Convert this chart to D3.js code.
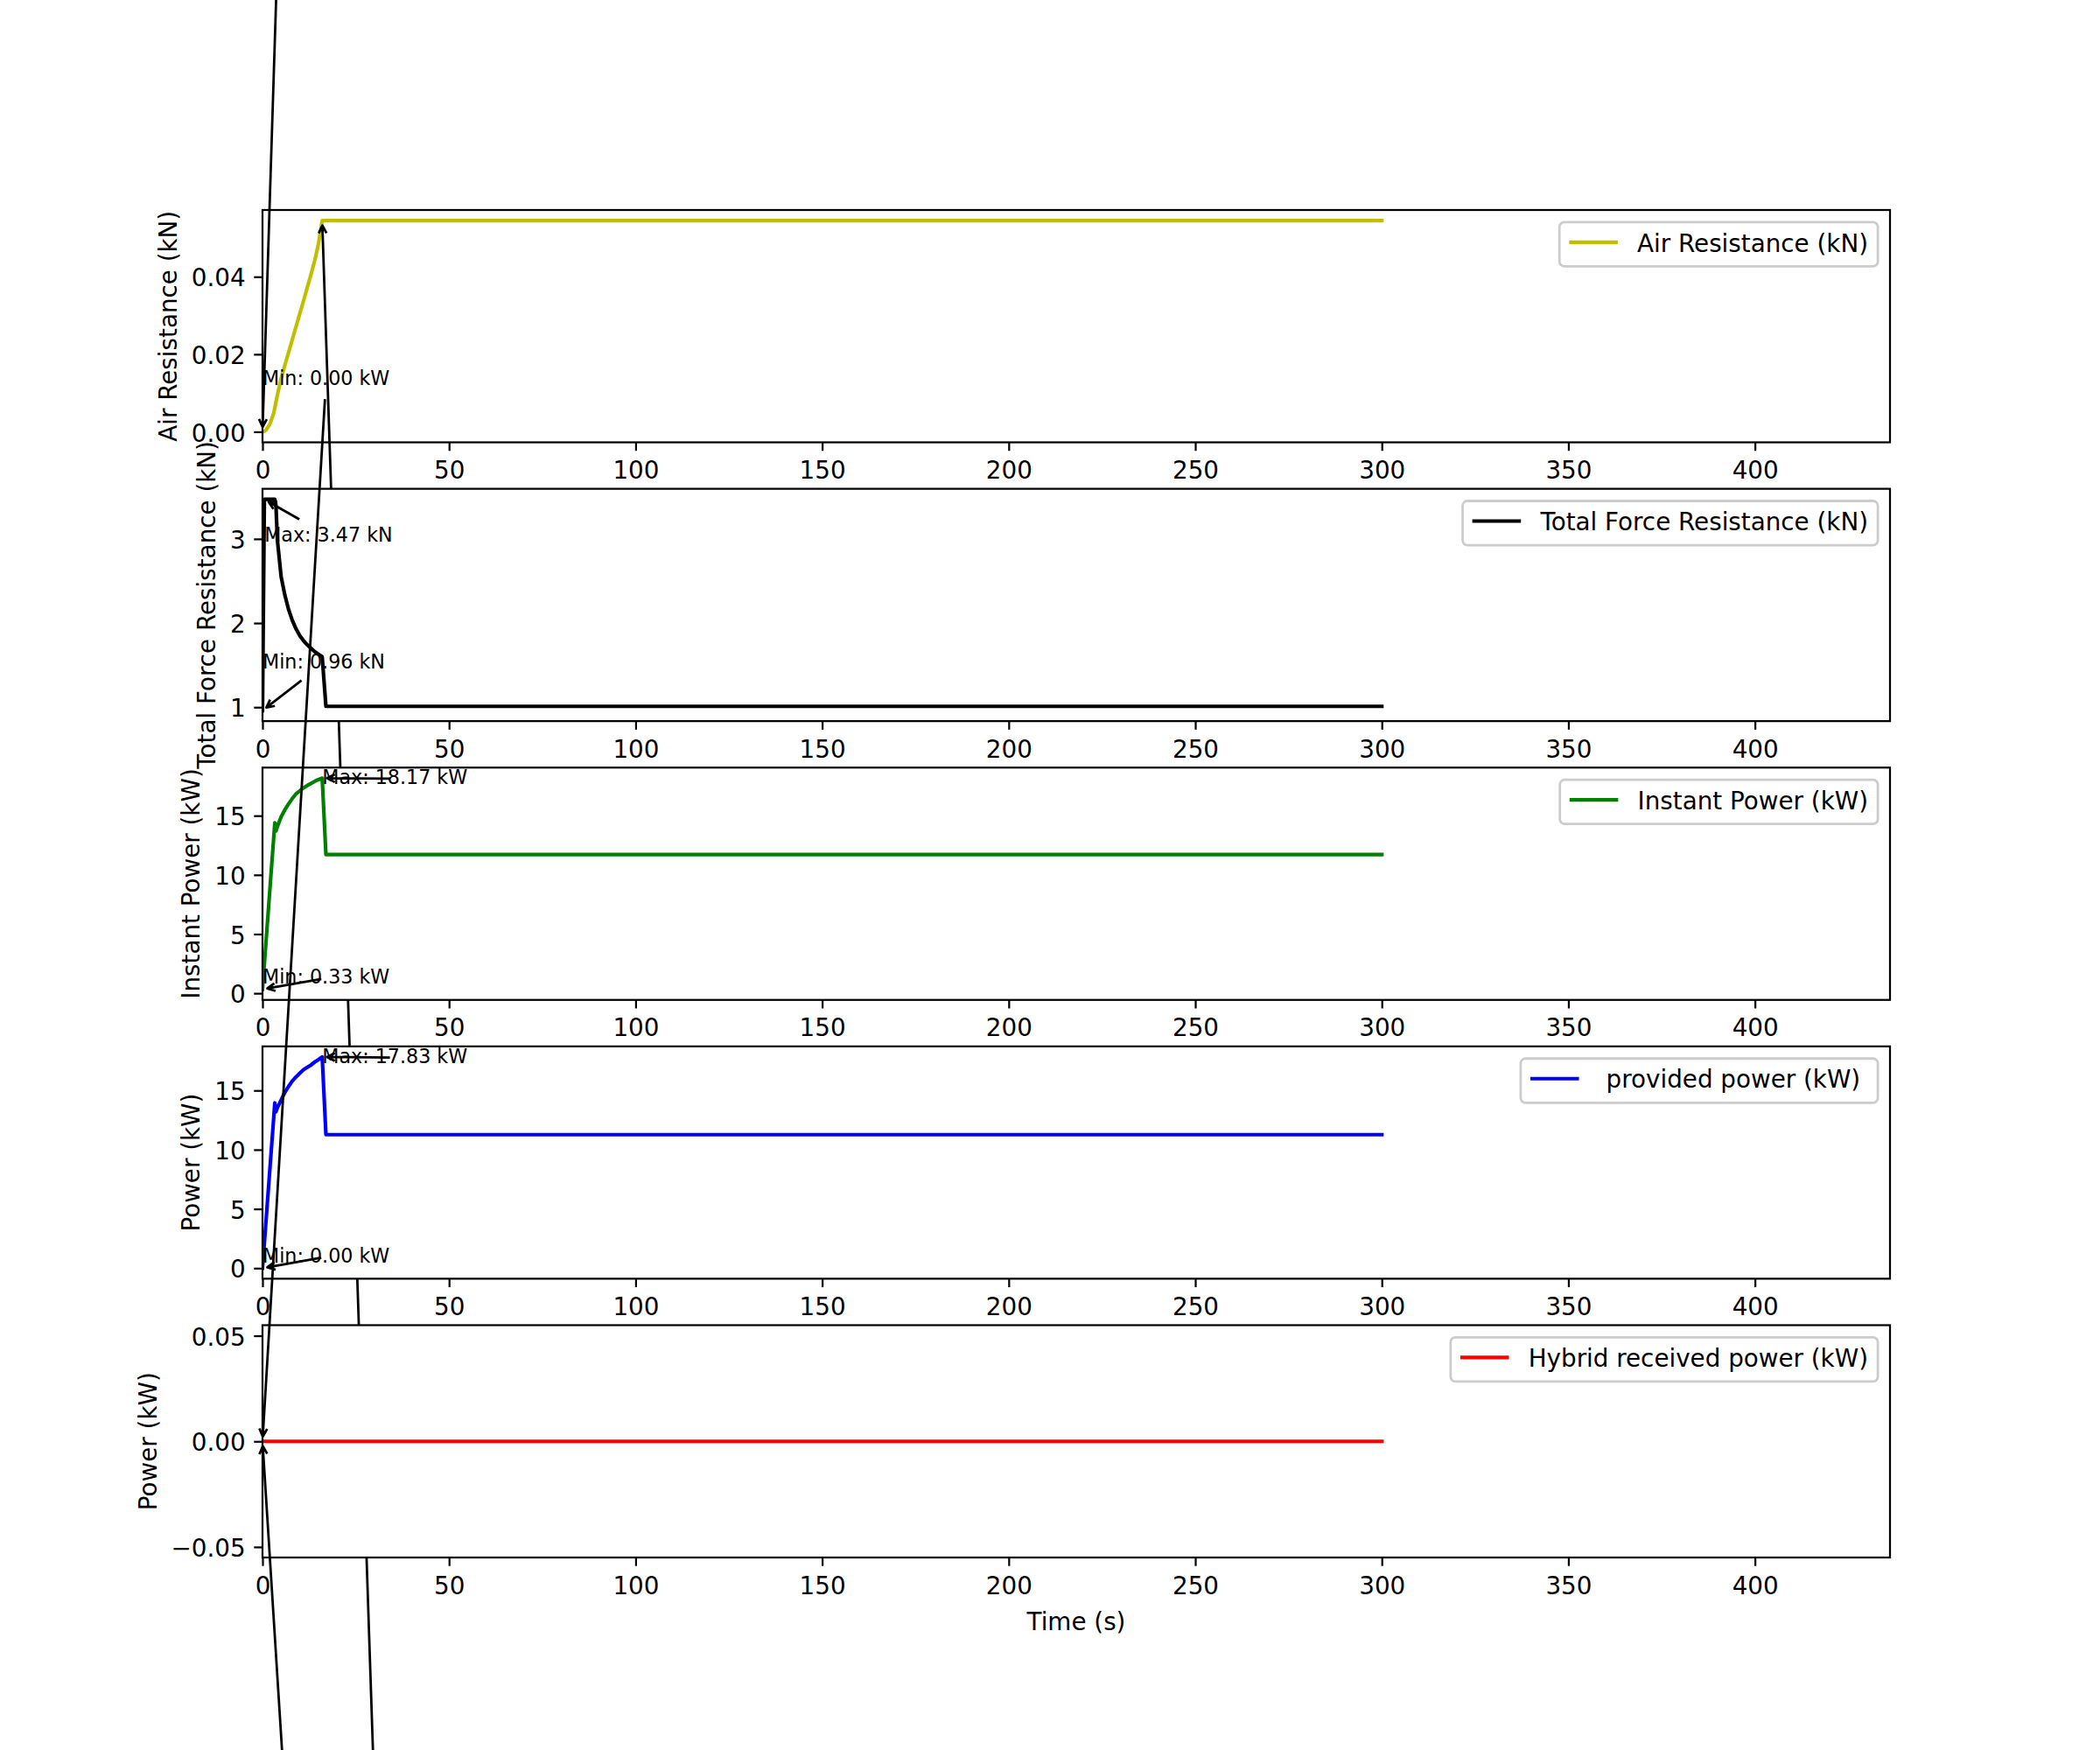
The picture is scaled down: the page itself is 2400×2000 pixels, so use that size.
<!DOCTYPE html>
<html><head><meta charset="utf-8">
<script src="https://cdn.jsdelivr.net/npm/d3@7"></script>
<style>body{margin:0;background:#fff} svg text{font-family:"DejaVu Sans"}</style>
</head><body><svg id="c" width="2400" height="2000"></svg>
<script>
// ---------------- data ----------------
const time = [0,0.5,1,2,3,3.3,3.6,4,5,6,7,8,9,10,11,12,13,14,15,16,17,300];
const airResistance = [0,0.0001,0.0005,0.002,0.0048,0.0062,0.0076,0.0095,0.0138,0.0172,0.0205,0.0238,0.0272,0.0305,0.0338,0.0372,0.0406,0.0442,0.0485,0.0545,0.0545,0.0545];
const totalForce = [0.96,3.47,3.47,3.47,3.47,3.47,3.40,2.98,2.55,2.33,2.16,2.03,1.93,1.85,1.79,1.74,1.70,1.66,1.63,1.60,1.01,1.01];
const instantPower = [0.33,2.46,4.59,8.86,13.12,14.4,13.7,14.1,14.9,15.5,16.0,16.45,16.85,17.1,17.35,17.55,17.72,17.9,18.05,18.17,11.72,11.72];
const providedPower = [0,2.11,4.23,8.45,12.68,13.95,13.2,13.55,14.2,14.85,15.35,15.8,16.15,16.45,16.75,16.95,17.15,17.4,17.6,17.83,11.27,11.27];
const hybridTime = [0,300];
const hybridPower = [0,0];

const xTicks = [0,50,100,150,200,250,300,350,400];
const xMax = 436.2;
const airTicks = [0,0.02,0.04];
const forceTicks = [1,2,3];
const powerTicks = [0,5,10,15];
const hybridTicks = [-0.05,0,0.05];

const legendLabels = ["Air Resistance (kN)","Total Force Resistance (kN)","Instant Power (kW)"," provided power (kW) ","Hybrid received power (kW)"];
const yLabels = ["Air Resistance (kN)","Total Force Resistance (kN)","Instant Power (kW)","Power (kW)","Power (kW)"];
const units = ["kN","kN","kW","kW","kW"];
const colors = ["#bfbf00","#000000","#008000","#0000ff","#ff0000"];
const annotOffset = 0.5;
const xLabel = "Time (s)";

// ---------------- layout ----------------
const PT = 200/72;
const FS = 10*PT, AFS = 8*PT;
const left = 300, right = 2160, top0 = 240;
const axH = 1540/5.8, gap = axH*0.2;
const svg = d3.select('#c');
svg.append('rect').attr('width',2400).attr('height',2000).attr('fill','#fff');
const x = d3.scaleLinear().domain([0,xMax]).range([left,right]);

const panels = [
  {t:time, v:airResistance, ticks:airTicks, fmt:d3.format('.2f')},
  {t:time, v:totalForce, ticks:forceTicks, fmt:d3.format('d')},
  {t:time, v:instantPower, ticks:powerTicks, fmt:d3.format('d')},
  {t:time, v:providedPower, ticks:powerTicks, fmt:d3.format('d')},
  {t:hybridTime, v:hybridPower, ticks:hybridTicks, fmt:d3.format('.2f')}
];

function yDomain(v){
  let lo=d3.min(v), hi=d3.max(v);
  if(lo===hi){ lo-=0.05; hi+=0.05; }
  const m=(hi-lo)*0.05; return [lo-m,hi+m];
}

function annotate(g, txt, tx, ty, px, py){
  const ann = g.append('g');
  const arrowG = ann.append('g');
  const tEl = ann.append('text').attr('x',tx).attr('y',ty).attr('font-size',AFS).attr('fill','#000').text(txt);
  const w = tEl.node().getComputedTextLength();
  const bx0=tx, bx1=tx+w, by0=ty-0.760*AFS, by1=ty+0.208*AFS;
  const cx=(bx0+bx1)/2, cy=(by0+by1)/2;
  const pad=2*PT;
  const rx0=bx0-pad, rx1=bx1+pad, ry0=by0-pad, ry1=by1+pad;
  let ax=cx, ay=cy;
  const inside = (px>=rx0&&px<=rx1&&py>=ry0&&py<=ry1);
  const dx=px-cx, dy=py-cy;
  if(!inside){
    let s=1;
    if(dx>0) s=Math.min(s,(rx1-cx)/dx); else if(dx<0) s=Math.min(s,(rx0-cx)/dx);
    if(dy>0) s=Math.min(s,(ry1-cy)/dy); else if(dy<0) s=Math.min(s,(ry0-cy)/dy);
    ax=cx+dx*s; ay=cy+dy*s;
  }
  const L=Math.hypot(px-ax,py-ay);
  const ux=(px-ax)/L, uy=(py-ay)/L;
  const sh=2*PT;
  const sx=ax+ux*sh, sy=ay+uy*sh, ex=px-ux*sh, ey=py-uy*sh;
  const hl=0.4*AFS, hw=0.2*AFS;
  const bxp=ex-ux*hl, byp=ey-uy*hl, nx=-uy, ny=ux;
  arrowG.append('path')
    .attr('d',`M${sx},${sy}L${ex},${ey}M${bxp+nx*hw},${byp+ny*hw}L${ex},${ey}L${bxp-nx*hw},${byp-ny*hw}`)
    .attr('fill','none').attr('stroke','#000').attr('stroke-width',1*PT)
    .attr('stroke-linejoin','round');
}

panels.forEach((p,i)=>{
  const top = top0 + i*(axH+gap), bottom = top+axH;
  const y = d3.scaleLinear().domain(yDomain(p.v)).range([bottom,top]);
  const g = svg.append('g');
  // axes background
  g.append('rect').attr('x',left).attr('y',top).attr('width',right-left).attr('height',axH).attr('fill','#fff');
  const cid='clip'+i;
  g.append('clipPath').attr('id',cid).append('rect').attr('x',left).attr('y',top).attr('width',right-left).attr('height',axH);
  const pts = p.t.map((t,k)=>[t,p.v[k]]);
  g.append('path').attr('clip-path',`url(#${cid})`)
    .attr('d', d3.line().x(d=>x(d[0])).y(d=>y(d[1]))(pts))
    .attr('fill','none').attr('stroke',colors[i]).attr('stroke-width',1.5*PT)
    .attr('stroke-linejoin','round').attr('stroke-linecap','square');
  // spines
  g.append('rect').attr('x',left).attr('y',top).attr('width',right-left).attr('height',axH)
    .attr('fill','none').attr('stroke','#000').attr('stroke-width',0.8*PT);
  // x axis
  const xa = g.append('g').attr('transform',`translate(0,${bottom})`)
    .call(d3.axisBottom(x).tickValues(xTicks).tickSize(3.5*PT).tickPadding(3.5*PT).tickFormat(d3.format('d')));
  xa.select('.domain').remove();
  xa.selectAll('line').attr('stroke','#000').attr('stroke-width',0.8*PT);
  xa.selectAll('text').attr('font-family','DejaVu Sans').attr('font-size',FS).attr('fill','#000').attr('dy','0.8em');
  // y axis
  const ya = g.append('g').attr('transform',`translate(${left},0)`)
    .call(d3.axisLeft(y).tickValues(p.ticks).tickSize(3.5*PT).tickPadding(3.5*PT).tickFormat(p.fmt));
  ya.select('.domain').remove();
  ya.selectAll('line').attr('stroke','#000').attr('stroke-width',0.8*PT);
  const yt = ya.selectAll('text').attr('font-family','DejaVu Sans').attr('font-size',FS).attr('fill','#000').attr('dy','0.38em');
  let maxW = 0; yt.each(function(){ maxW=Math.max(maxW,this.getComputedTextLength()); });
  const ylx = left - 7*PT - maxW - 4*PT - 0.208*FS;
  g.append('text').attr('transform',`translate(${ylx},${(top+bottom)/2}) rotate(-90)`)
    .attr('text-anchor','middle').attr('font-size',FS).attr('fill','#000').text(yLabels[i]);
  if(i===panels.length-1){
    const xlTop = bottom + 7*PT + 0.968*FS + 4*PT;
    g.append('text').attr('x',(left+right)/2).attr('y',xlTop+0.76*FS+4)
      .attr('text-anchor','middle').attr('font-size',FS).attr('fill','#000').text(xLabel);
  }
  // annotations
  const iMax = d3.maxIndex(p.v), iMin = d3.minIndex(p.v);
  const vMax = p.v[iMax], vMin = p.v[iMin];
  annotate(g, `Max: ${vMax.toFixed(2)} ${units[i]}`, x(p.t[iMax]), y(vMax-annotOffset), x(p.t[iMax]), y(vMax));
  annotate(g, `Min: ${vMin.toFixed(2)} ${units[i]}`, x(p.t[iMin]), y(vMin+annotOffset), x(p.t[iMin]), y(vMin));
  // legend
  const lg = g.append('g');
  const lt = lg.append('text').attr('font-size',FS).attr('fill','#000').style('white-space','pre').text(legendLabels[i]);
  const tw = lt.node().getComputedTextLength();
  const bp=0.4*FS, hlen=2*FS, htp=0.8*FS, bap=0.5*FS;
  const fr = right - bap, fw = bp+hlen+htp+tw+bp, fl = fr-fw, ft = top+bap, fh = 2*bp + 1.02*FS;
  lg.insert('rect','text').attr('x',fl).attr('y',ft).attr('width',fw).attr('height',fh).attr('rx',0.2*FS).attr('ry',0.2*FS)
    .attr('fill','#fff').attr('fill-opacity',0.8).attr('stroke','#cccccc').attr('stroke-width',1*PT);
  lg.append('line').attr('x1',fl+bp).attr('x2',fl+bp+hlen).attr('y1',ft+fh*0.455).attr('y2',ft+fh*0.455)
    .attr('stroke',colors[i]).attr('stroke-width',1.5*PT);
  lt.attr('x',fl+bp+hlen+htp).attr('y',ft+bp+0.81*FS);
});
</script></body></html>
